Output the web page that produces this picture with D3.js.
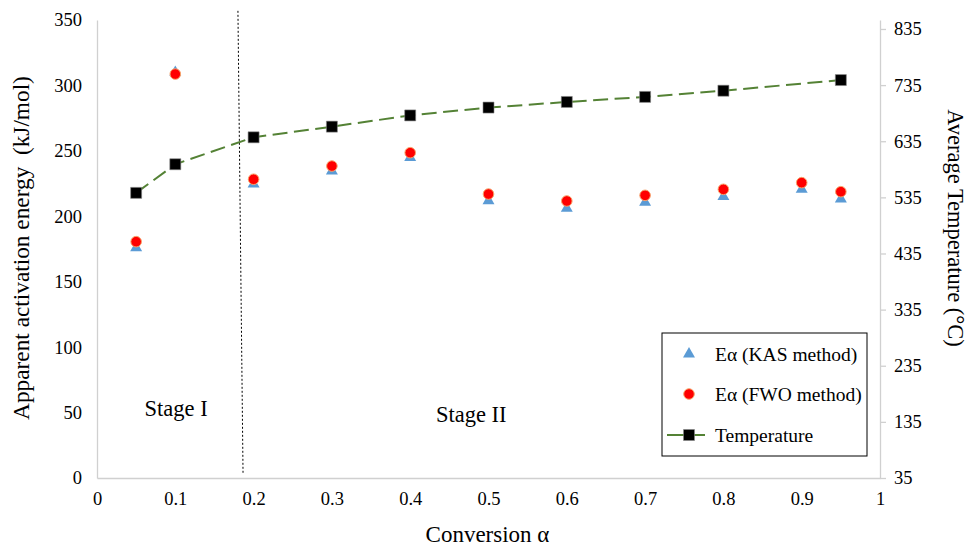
<!DOCTYPE html>
<html>
<head>
<meta charset="utf-8">
<script src="https://cdn.jsdelivr.net/npm/d3@7"></script>
<style>
  body { margin: 0; background: #fff; }
  text { font-family: "Liberation Serif", "Times New Roman", serif; fill: #000; white-space: pre; }
</style>
</head>
<body>
<svg id="chart"></svg>
<script>
// conversion values (x)
const conversion = [0.05, 0.1, 0.2, 0.3, 0.4, 0.5, 0.6, 0.7, 0.8, 0.9, 0.95];
// Ea by KAS method (kJ/mol)
const kasEa = [176, 310, 224.7, 234.6, 244.8, 211.9, 206.1, 210.7, 215, 220.6, 213.2];
// Ea by FWO method (kJ/mol)
const fwoEa = [180.6, 308.7, 228.3, 238.4, 248.6, 217, 211.7, 216, 220.6, 225.7, 218.8];
// average temperature (°C), no value at 0.9
const tempConv = [0.05, 0.1, 0.2, 0.3, 0.4, 0.5, 0.6, 0.7, 0.8, 0.95];
const tempVal = [543, 594, 642, 661, 681, 695, 705, 714, 725, 744];

const xTicks = [0, 0.1, 0.2, 0.3, 0.4, 0.5, 0.6, 0.7, 0.8, 0.9, 1];
const leftTicks = [0, 50, 100, 150, 200, 250, 300, 350];
const rightTicks = [35, 135, 235, 335, 435, 535, 635, 735, 835];

// stage divider, drawn slightly slanted as in the original (x, Ea)
const divider = [[0.18, 357], [0.1865, 4]];
const stageLabels = [{text: "Stage I", x: 0.101, y: 47}, {text: "Stage II", x: 0.478, y: 43}];

function main() {
  const width = 968, height = 547;
  const m = {top: 20, right: 88, bottom: 69, left: 97};

  const svg = d3.select("#chart").attr("width", width).attr("height", height);

  const x = d3.scaleLinear().domain([0, 1]).range([m.left, width - m.right]);
  const y = d3.scaleLinear().domain([0, 350]).range([height - m.bottom, m.top]);
  const y2 = d3.scaleLinear().domain([35, 851]).range([height - m.bottom, m.top]);

  const axisCol = "#d0d0d0";

  // bottom axis
  const gx = svg.append("g")
    .attr("transform", `translate(0,${height - m.bottom})`)
    .call(d3.axisBottom(x).tickValues(xTicks).tickSize(0).tickPadding(14)
      .tickFormat(d => d === 0 || d === 1 ? d : d3.format(".1f")(d)));
  gx.select(".domain").attr("stroke", axisCol).attr("stroke-width", 1.3);
  gx.selectAll("text").attr("font-size", 18.5).attr("font-family", "Liberation Serif");

  // left axis
  const gy = svg.append("g")
    .attr("transform", `translate(${m.left},0)`)
    .call(d3.axisLeft(y).tickValues(leftTicks).tickSize(0).tickPadding(15));
  gy.select(".domain").attr("stroke", axisCol).attr("stroke-width", 1.3);
  gy.selectAll("text").attr("font-size", 18.5).attr("font-family", "Liberation Serif");

  // right axis
  const gy2 = svg.append("g")
    .attr("transform", `translate(${width - m.right},0)`)
    .call(d3.axisRight(y2).tickValues(rightTicks).tickSizeInner(6).tickSizeOuter(0).tickPadding(8));
  gy2.select(".domain").attr("stroke", axisCol).attr("stroke-width", 1.3);
  gy2.selectAll(".tick line").attr("stroke", axisCol).attr("stroke-width", 1.3);
  gy2.selectAll("text").attr("font-size", 18.5).attr("font-family", "Liberation Serif");

  // axis titles
  svg.append("text")
    .attr("x", x(0.5) - 1).attr("y", 542)
    .attr("text-anchor", "middle").attr("font-size", 23)
    .text("Conversion α");

  svg.append("text")
    .attr("transform", `translate(28.5,248) rotate(-90)`)
    .attr("text-anchor", "middle").attr("font-size", 23.3)
    .text("Apparent activation energy  (kJ/mol)");

  svg.append("text")
    .attr("transform", `translate(948,228) rotate(90)`)
    .attr("text-anchor", "middle").attr("font-size", 22.5)
    .text("Average Temperature (°C)");

  // stage divider
  svg.append("line")
    .attr("x1", x(divider[0][0])).attr("y1", y(divider[0][1]))
    .attr("x2", x(divider[1][0])).attr("y2", y(divider[1][1]))
    .attr("stroke", "#000").attr("stroke-width", 1).attr("stroke-dasharray", "2,2");

  svg.selectAll(".stage")
    .data(stageLabels).enter()
    .append("text")
      .attr("class", "stage")
      .attr("x", d => x(d.x)).attr("y", d => y(d.y))
      .attr("text-anchor", "middle").attr("font-size", 22.5)
      .text(d => d.text);

  const tri = d3.symbol().type(d3.symbolTriangle).size(62);
  const sq = d3.symbol().type(d3.symbolSquare).size(121);

  // KAS triangles
  svg.append("g").selectAll("path")
    .data(conversion).enter()
    .append("path")
      .attr("d", tri)
      .attr("transform", (d, i) => `translate(${x(d)},${y(kasEa[i])})`)
      .attr("fill", "#5b9bd5");

  // FWO circles
  svg.append("g").selectAll("circle")
    .data(conversion).enter()
    .append("circle")
      .attr("cx", d => x(d))
      .attr("cy", (d, i) => y(fwoEa[i]))
      .attr("r", 5.3)
      .attr("fill", "#ff0000")
      .attr("stroke", "#f8a36a").attr("stroke-width", 1);

  // temperature line
  const line = d3.line().x(d => x(d[0])).y(d => y2(d[1]));
  const tData = tempConv.map((d, i) => [d, tempVal[i]]);
  svg.append("path")
    .datum(tData)
    .attr("d", line)
    .attr("fill", "none")
    .attr("stroke", "#548235").attr("stroke-width", 2)
    .attr("stroke-dasharray", "15,6.5");

  svg.append("g").selectAll("path")
    .data(tData).enter()
    .append("path")
      .attr("d", sq)
      .attr("transform", d => `translate(${x(d[0])},${y2(d[1])})`)
      .attr("fill", "#000").attr("stroke", "#888").attr("stroke-width", 0.6);

  // legend
  const lg = svg.append("g").attr("transform", "translate(662,333)");
  lg.append("rect")
    .attr("width", 205).attr("height", 123)
    .attr("fill", "#fff").attr("stroke", "#000").attr("stroke-width", 1);

  const items = ["Eα (KAS method)", "Eα (FWO method)", "Temperature"];
  const rowY = [21, 61, 102];
  items.forEach((t, i) => {
    const g = lg.append("g").attr("transform", `translate(0,${rowY[i]})`);
    if (i === 0) {
      g.append("path").attr("d", tri).attr("transform", "translate(27,0)").attr("fill", "#5b9bd5");
    } else if (i === 1) {
      g.append("circle").attr("cx", 27).attr("r", 5.3)
        .attr("fill", "#ff0000").attr("stroke", "#f8a36a").attr("stroke-width", 1);
    } else {
      g.append("line").attr("x1", 5).attr("x2", 43)
        .attr("stroke", "#548235").attr("stroke-width", 2);
      g.append("path").attr("d", sq).attr("transform", "translate(27,0)")
        .attr("fill", "#000").attr("stroke", "#888").attr("stroke-width", 0.6);
    }
    g.append("text")
      .attr("x", 53).attr("y", 6.5)
      .attr("font-size", 19.5)
      .text(t);
  });
}

window.addEventListener("load", main);
</script>
</body>
</html>
